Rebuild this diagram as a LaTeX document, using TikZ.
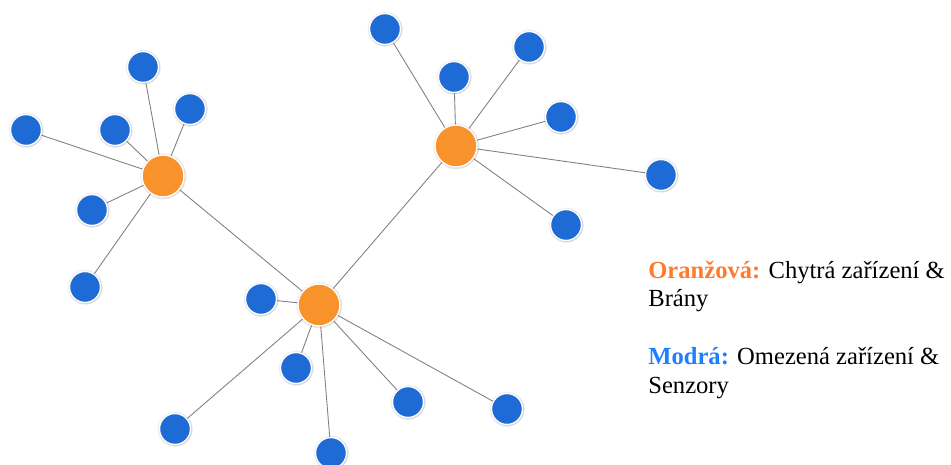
\documentclass[tikz,border=0pt]{standalone}
\usepackage{fontspec}
\setmainfont{LiberationSerif}[Extension=.ttf,UprightFont=*-Regular,BoldFont=*-Bold,ItalicFont=*-Italic,BoldItalicFont=*-BoldItalic]
\usetikzlibrary{shadows}

\definecolor{hubfill}{HTML}{F8922A}
\definecolor{leaffill}{HTML}{1E6BD6}
\definecolor{hublabel}{HTML}{FF7B2C}
\definecolor{leaflabel}{HTML}{1E80FF}

\begin{document}
\begin{tikzpicture}[
  hub/.style={circle,fill=hubfill,draw=white,line width=0.8pt,minimum size=0.84cm,inner sep=0pt,
    circular glow={fill=black!70,opacity=0.35,shadow scale=1.12}},
  leaf/.style={circle,fill=leaffill,draw=white,line width=0.8pt,minimum size=0.62cm,inner sep=0pt,
    circular glow={fill=black!70,opacity=0.35,shadow scale=1.15}},
  link/.style={draw=black!50,line width=0.5pt},
  legend/.style={anchor=base west,inner sep=0pt,align=left,font=\rmfamily\fontsize{14}{16.5}\selectfont}
]
\useasboundingbox (0,0) rectangle (19.02,-9.30);
% hubs
\node[hub] (hA) at (3.26,-3.52) {};
\node[hub] (hB) at (9.12,-2.92) {};
\node[hub] (hC) at (6.38,-6.10) {};
% leaves of hA
\node[leaf] (a1) at (2.86,-1.34) {};
\node[leaf] (a2) at (3.80,-2.18) {};
\node[leaf] (a3) at (2.30,-2.60) {};
\node[leaf] (a4) at (0.52,-2.60) {};
\node[leaf] (a5) at (1.84,-4.20) {};
\node[leaf] (a6) at (1.70,-5.74) {};
% leaves of hB
\node[leaf] (b1) at (7.70,-0.58) {};
\node[leaf] (b2) at (9.08,-1.54) {};
\node[leaf] (b3) at (10.58,-0.94) {};
\node[leaf] (b4) at (11.22,-2.34) {};
\node[leaf] (b5) at (13.22,-3.50) {};
\node[leaf] (b6) at (11.32,-4.50) {};
% leaves of hC
\node[leaf] (c1) at (5.22,-5.98) {};
\node[leaf] (c2) at (5.92,-7.36) {};
\node[leaf] (c3) at (3.50,-8.58) {};
\node[leaf] (c4) at (6.62,-9.06) {};
\node[leaf] (c5) at (8.16,-8.04) {};
\node[leaf] (c6) at (10.14,-8.18) {};
% links
\draw[link] (hA) -- (hC);
\draw[link] (hB) -- (hC);
\foreach \n in {a1,a2,a3,a4,a5,a6} \draw[link] (hA) -- (\n);
\foreach \n in {b1,b2,b3,b4,b5,b6} \draw[link] (hB) -- (\n);
\foreach \n in {c1,c2,c3,c4,c5,c6} \draw[link] (hC) -- (\n);
% legend (base = last line)
\node[legend] (lgHub) at (12.96,-6.14)
  {\textcolor{hublabel}{\textbf{Oranžová:}} Chytrá zařízení \&\\Brány};
\node[legend] (lgLeaf) at (12.96,-7.86)
  {\textcolor{leaflabel}{\textbf{Modrá:}} Omezená zařízení \&\\Senzory};
\end{tikzpicture}
\end{document}
